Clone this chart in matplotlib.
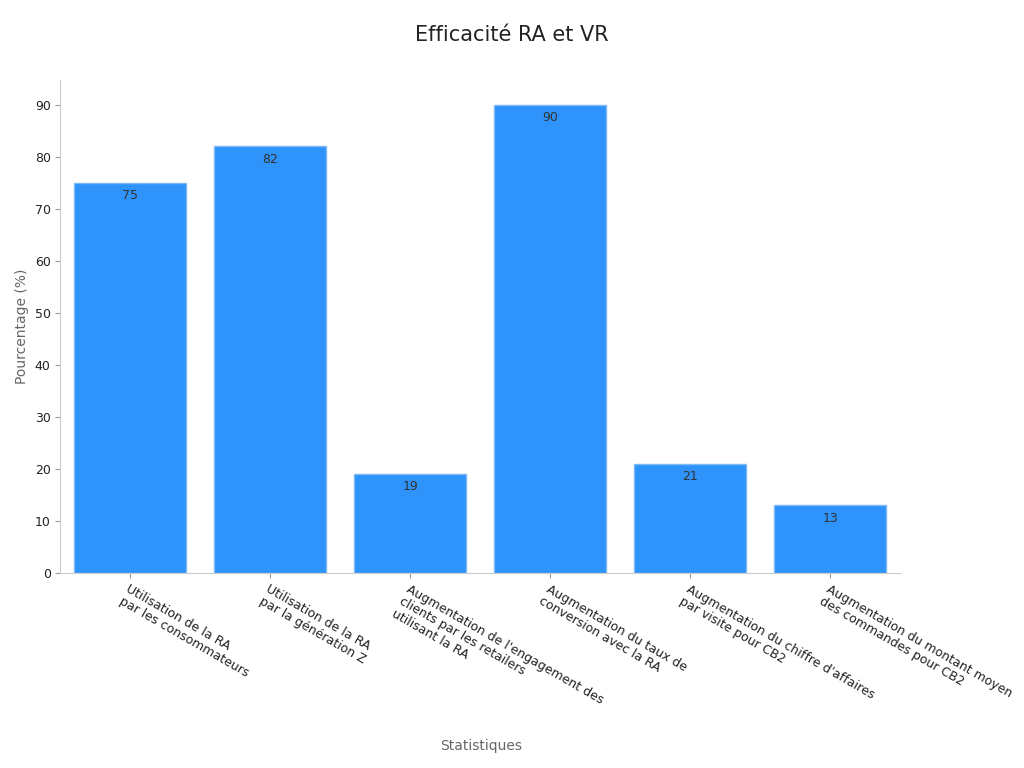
import matplotlib.pyplot as plt

categories = [
    "Utilisation de la RA\npar les consommateurs",
    "Utilisation de la RA\npar la génération Z",
    "Augmentation de l'engagement des\nclients par les retailers\nutilisant la RA",
    "Augmentation du taux de\nconversion avec la RA",
    "Augmentation du chiffre d'affaires\npar visite pour CB2",
    "Augmentation du montant moyen\ndes commandes pour CB2",
]
values = [75, 82, 19, 90, 21, 13]

fig = plt.figure(figsize=(10.24, 7.68), dpi=100)
ax = fig.add_axes([0.059, 0.254, 0.82, 0.642])

x = list(range(len(categories)))
bars = ax.bar(x, values, width=0.8, color="#2E93FA", edgecolor="#7DB9F5", linewidth=1)
for b, v in zip(bars, values):
    ax.text(b.get_x() + b.get_width() / 2, v - 1.2, str(v), ha="center", va="top",
            fontsize=9, color="#333333")

ax.set_xlim(-0.5, 5.5)
ax.set_ylim(0, 94.8)
ax.set_yticks(range(0, 91, 10))
ax.set_xticks(x)
ax.set_xticklabels(categories, rotation=-30, ha="left", rotation_mode="anchor",
                   fontsize=9, color="#222222", linespacing=1.1)
ax.tick_params(axis="y", labelsize=9, colors="#222222")
ax.tick_params(axis="both", color="#999999")
for s in ["top", "right"]:
    ax.spines[s].set_visible(False)
for s in ["left", "bottom"]:
    ax.spines[s].set_color("#cccccc")

ax.set_ylabel("Pourcentage (%)", fontsize=10, color="#666666")
fig.text(0.47, 0.023, "Statistiques", ha="center", fontsize=10, color="#666666")
fig.text(0.5, 0.955, "Efficacité RA et VR", ha="center", va="center", fontsize=15, color="#222222")

fig.savefig("out.png", dpi=100)
